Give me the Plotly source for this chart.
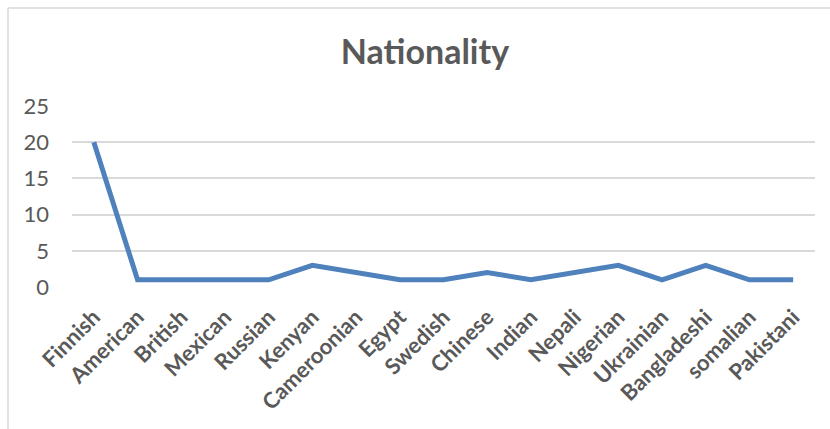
import plotly.graph_objects as go

# Survey respondents by nationality
nationalities = ["Finnish", "American", "British", "Mexican", "Russian", "Kenyan",
                 "Cameroonian", "Egypt", "Swedish", "Chinese", "Indian", "Nepali",
                 "Nigerian", "Ukrainian", "Bangladeshi", "somalian", "Pakistani"]
counts = [20, 1, 1, 1, 1, 3, 2, 1, 1, 2, 1, 2, 3, 1, 3, 1, 1]
y_ticks = [0, 5, 10, 15, 20, 25]

W, H = 830, 429
ML, MR, MT, MB = 72, 15, 106, 142
plot_w = W - ML - MR
plot_h = H - MT - MB

def px_to_paper_x(px):
    return (px - ML) / plot_w

def px_to_paper_y(py):
    return (H - MB - py) / plot_h

text_grey = "#595959"
grid_grey = "#D9D9D9"
font_family = "Lato"

fig = go.Figure(
    go.Scatter(
        x=nationalities,
        y=counts,
        mode="lines",
        line=dict(color="#4F81BD", width=5),
        hoverinfo="x+y",
    )
)

# chart frame (left and top edges)
frame_left = px_to_paper_x(8)
frame_top = px_to_paper_y(8)
fig.add_shape(type="line", xref="paper", yref="paper",
              x0=frame_left, x1=frame_left, y0=frame_top, y1=px_to_paper_y(H + 5),
              line=dict(color=grid_grey, width=1.5))
fig.add_shape(type="line", xref="paper", yref="paper",
              x0=frame_left, x1=px_to_paper_x(W + 5), y0=frame_top, y1=frame_top,
              line=dict(color=grid_grey, width=1.5))

fig.update_layout(
    width=W,
    height=H,
    margin=dict(l=ML, r=MR, t=MT, b=MB),
    paper_bgcolor="white",
    plot_bgcolor="white",
    showlegend=False,
    title=dict(
        text="<b>Nationality</b>",
        x=0.512, xanchor="center",
        y=1 - 52 / H, yanchor="middle", yref="container",
        font=dict(family=font_family, size=34, color=text_grey),
    ),
    xaxis=dict(
        type="category",
        range=[-0.5, len(nationalities) - 0.5],
        tickangle=-45,
        tickfont=dict(family=font_family, size=22, color=text_grey, weight="bold"),
        showgrid=False,
        showline=False,
        zeroline=False,
        ticks="",
        ticklabelstandoff=12,
    ),
    yaxis=dict(
        range=[0, 25],
        tickvals=y_ticks,
        tickfont=dict(family=font_family, size=22, color=text_grey),
        showgrid=True,
        gridcolor=grid_grey,
        gridwidth=1.5,
        zeroline=False,
        showline=False,
        ticks="",
        ticklabelstandoff=22,
    ),
)

fig.write_html("out.html")
